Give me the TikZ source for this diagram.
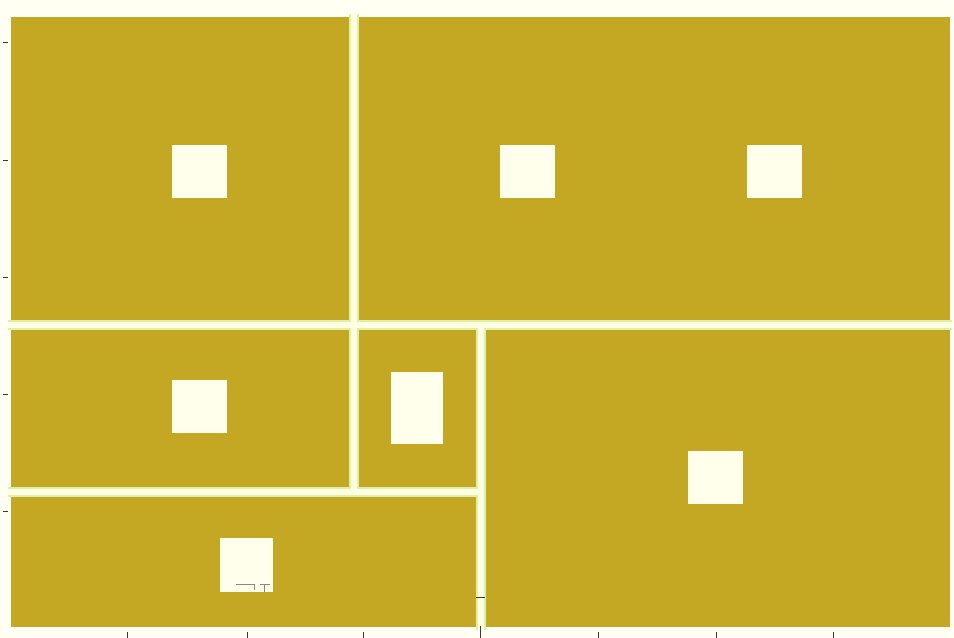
\documentclass[tikz,border=0pt]{standalone}
\usepackage{xcolor}
\usepackage{tikz}
\definecolor{plangold}{HTML}{C4A823}
\definecolor{planwall}{HTML}{FFFFE4}
\definecolor{planglow}{HTML}{DDF2A6}
\definecolor{planpaper}{HTML}{FFFFF4}
\definecolor{plantick}{HTML}{3A3A30}
\definecolor{planbox}{HTML}{FFFFEC}

\begin{document}
\begin{tikzpicture}[
    x=0.02cm,y=-0.02cm,
    floor/.style={fill=plangold},
    wall/.style={draw=planwall, line width=0.13cm, line cap=butt},
    glow/.style={draw=planglow, line width=0.2cm, line cap=butt},
    fixture/.style={fill=planbox},
    tick/.style={draw=plantick, line width=0.5pt}
  ]
    \fill[planpaper] (0,0) rectangle (954,638);
    \useasboundingbox (0,0) rectangle (954,638);

    % floor area
    \fill[floor] (11,17) rectangle (950,627);

    % walls
    \draw[glow] (8,325) -- (952,325);
    \draw[glow] (8,492) -- (478,492);
    \draw[glow] (354,14) -- (354,490);
    \draw[glow] (481,326) -- (481,630);
    \draw[wall] (8,325) -- (952,325);
    \draw[wall] (8,492) -- (478,492);
    \draw[wall] (354,14) -- (354,490);
    \draw[wall] (481,326) -- (481,630);

    % fixtures
    \fill[fixture] (172,145) rectangle (227,198);
    \fill[fixture] (500,145) rectangle (555,198);
    \fill[fixture] (747,145) rectangle (802,198);
    \fill[fixture] (172,380) rectangle (227,433);
    \fill[fixture] (391,372) rectangle (443,444);
    \fill[fixture] (688,451) rectangle (743,504);
    \fill[fixture] (220,538) rectangle (273,592);
    \draw[tick, plantick!60] (236,584) -- (254,584) (254,584) -- (254,590) (260,584) -- (270,584) (264,584) -- (264,592);

    % axis ticks
    \foreach \ty in {42,160,277,394,511}
      \draw[tick] (3,\ty) -- (8,\ty);
    \foreach \tx in {127,247,363,598,716,833}
      \draw[tick] (\tx,632) -- (\tx,638);
    \draw[tick] (480,626) -- (480,638);
    \draw[tick] (476,597) -- (485,597);
  \end{tikzpicture}
\end{document}
